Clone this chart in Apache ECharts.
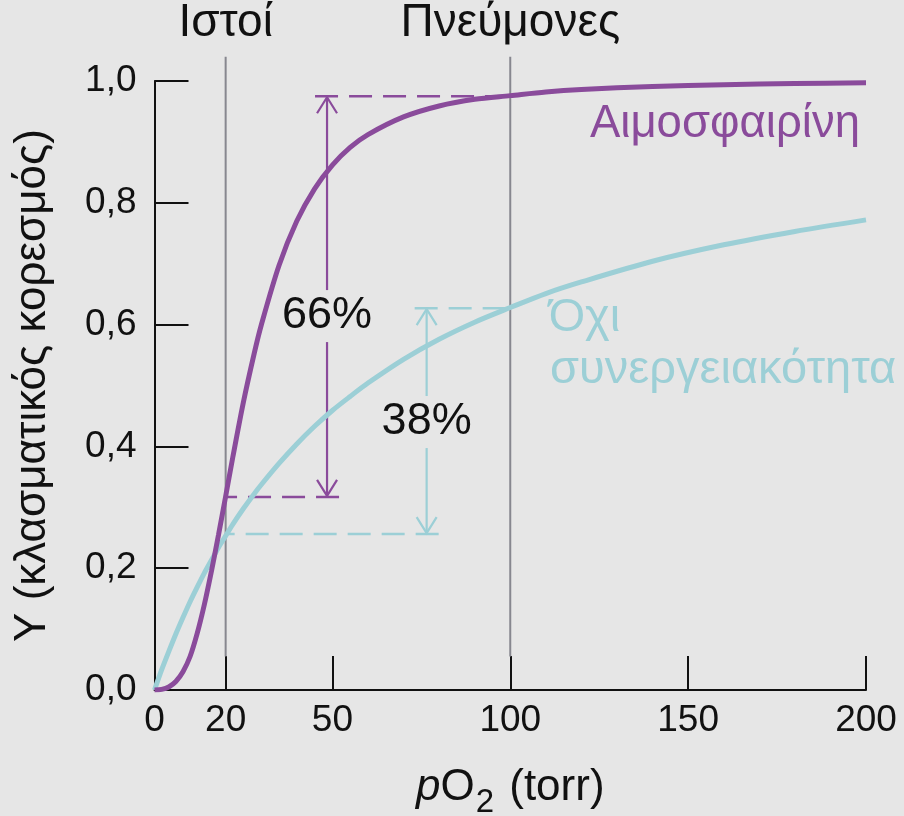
<!DOCTYPE html>
<html><head><meta charset="utf-8">
<script src="https://cdn.jsdelivr.net/npm/echarts@6/dist/echarts.min.js"></script>
<style>html,body{margin:0;padding:0;background:#e6e6e6}#c{width:904px;height:816px}</style>
</head><body><div id="c"></div>
<script>
// ---- data ----
const pO2        = [0, 2, 4, 6, 8, 10, 12, 14, 16, 18, 20, 22, 25, 28, 30, 35, 40, 45, 50, 55, 60, 70, 80, 90, 100, 110, 120, 140, 160, 180, 200];
const hemoglobin = [0, 0.001, 0.005, 0.014, 0.03, 0.055, 0.093, 0.14, 0.195, 0.255, 0.318, 0.382, 0.473, 0.552, 0.599, 0.697, 0.770, 0.823, 0.862, 0.891, 0.912, 0.941, 0.959, 0.970, 0.976, 0.982, 0.986, 0.991, 0.994, 0.996, 0.997];
const noCoop     = [0, 0.033, 0.063, 0.092, 0.119, 0.145, 0.169, 0.192, 0.213, 0.234, 0.253, 0.272, 0.298, 0.322, 0.337, 0.372, 0.404, 0.433, 0.459, 0.482, 0.504, 0.543, 0.576, 0.604, 0.628, 0.651, 0.670, 0.704, 0.731, 0.753, 0.772];
const xTicks = [0, 20, 50, 100, 150, 200];
const yTicks = [0, 0.2, 0.4, 0.6, 0.8, 1.0];
const regionNames = ['Ιστοί', 'Πνεύμονες'];
const regionP     = [20, 100];
// arrows: [pO2 of arrow, low Y, high Y]
const hbArrow = [48.5, 0.317, 0.975];
const ncArrow = [76.5, 0.256, 0.627];
const hbLabel = '66%';
const ncLabel = '38%';
const hbName = 'Αιμοσφαιρίνη';
const ncName = ['Όχι', 'συνεργειακότητα'];

const PURPLE = '#8a4b9b', TEAL = '#9ccfd6', GRAY = '#87878f';
const FONT = "'Liberation Sans', Arial, sans-serif";

function renderAnn(params, api) {
  const c = (x, y) => api.coord([x, y]);
  const ch = [];
  // vertical region lines + titles
  regionP.forEach((p, i) => {
    const a = c(p, 0.055), b = c(p, 1.04);
    ch.push({type: 'line', shape: {x1: a[0], y1: a[1], x2: b[0], y2: b[1]}, style: {stroke: GRAY, lineWidth: 2}});
    ch.push({type: 'text', style: {text: regionNames[i], x: b[0], y: b[1] - 33, fill: '#111', fontSize: 46, fontFamily: FONT, align: 'center', verticalAlign: 'middle'}});
  });
  function dashed(xFrom, xTo, y, color) {
    const a = c(xFrom, y), b = c(xTo, y);
    ch.push({type: 'line', shape: {x1: a[0], y1: a[1], x2: b[0], y2: b[1]}, style: {stroke: color, lineWidth: 2.5, lineDash: [23, 11]}});
  }
  const off = 12 / 3.5575;
  dashed(hbArrow[0] - off, regionP[1], hbArrow[2], PURPLE);
  dashed(hbArrow[0] + off, regionP[0], hbArrow[1], PURPLE);
  dashed(ncArrow[0] - off, regionP[1], ncArrow[2], TEAL);
  dashed(ncArrow[0] + off, regionP[0], ncArrow[1], TEAL);

  function drawArrow(arr, label, color, labelY) {
    const top = c(arr[0], arr[2]), bot = c(arr[0], arr[1]);
    const x = top[0];
    const ly = c(arr[0], labelY)[1];
    const st = {stroke: color, lineWidth: 2.2, fill: null};
    ch.push({type: 'line', shape: {x1: x, y1: top[1] + 1, x2: x, y2: ly - 26}, style: st});
    ch.push({type: 'line', shape: {x1: x, y1: ly + 26, x2: x, y2: bot[1] - 1}, style: st});
    ch.push({type: 'polyline', shape: {points: [[x - 10, top[1] + 17], [x, top[1] + 1], [x + 10, top[1] + 17]]}, style: st});
    ch.push({type: 'polyline', shape: {points: [[x - 10, bot[1] - 17], [x, bot[1] - 1], [x + 10, bot[1] - 17]]}, style: st});
    ch.push({type: 'text', style: {text: label, x: x, y: ly, fill: '#111', fontSize: 45, fontFamily: FONT, align: 'center', verticalAlign: 'middle'}});
  }
  drawArrow(hbArrow, hbLabel, PURPLE, 0.614);
  drawArrow(ncArrow, ncLabel, TEAL, 0.440);

  // curve names
  const hn = c(122.4, 0.928);
  ch.push({type: 'text', style: {text: hbName, x: hn[0], y: hn[1], fill: PURPLE, fontSize: 45.5, fontFamily: FONT, align: 'left', verticalAlign: 'middle'}});
  const n1 = c(110.8, 0.611), n2 = c(111.2, 0.525);
  ch.push({type: 'text', style: {text: ncName[0], x: n1[0], y: n1[1], fill: TEAL, fontSize: 47, fontFamily: FONT, align: 'left', verticalAlign: 'middle'}});
  ch.push({type: 'text', style: {text: ncName[1], x: n2[0], y: n2[1], fill: TEAL, fontSize: 47, fontFamily: FONT, align: 'left', verticalAlign: 'middle'}});
  return {type: 'group', children: ch};
}

const chart = echarts.init(document.getElementById('c'), null, {renderer: 'canvas'});
chart.setOption({
  backgroundColor: '#e6e6e6',
  animation: false,
  textStyle: {fontFamily: FONT},
  grid: {left: 154.5, right: 38, top: 81, bottom: 126, containLabel: false, outerBoundsMode: 'none'},
  xAxis: {
    type: 'value', min: 0, max: 200,
    name: '{i|p}{n|O}{s|2}{n| (torr)}',
    nameLocation: 'middle', nameGap: 76,
    nameTextStyle: {rich: {
      i: {fontSize: 44, fontStyle: 'italic', color: '#111', fontFamily: FONT, lineHeight: 44},
      n: {fontSize: 44, color: '#111', fontFamily: FONT, lineHeight: 44},
      s: {fontSize: 33, color: '#111', fontFamily: FONT, verticalAlign: 'top', lineHeight: 14, padding: [20, 3, 0, 1]}
    }},
    axisLine: {lineStyle: {color: '#111', width: 2}},
    axisTick: {inside: true, length: 34, customValues: xTicks, lineStyle: {color: '#111', width: 2}},
    axisLabel: {customValues: xTicks, color: '#111', fontSize: 37, margin: 12, fontFamily: FONT},
    splitLine: {show: false}
  },
  yAxis: {
    type: 'value', min: 0, max: 1, interval: 0.2,
    name: 'Y (κλασματικός κορεσμός)',
    nameLocation: 'middle', nameGap: 100, nameRotate: 90,
    nameTextStyle: {fontSize: 44, color: '#111', fontFamily: FONT},
    axisLine: {show: true, lineStyle: {color: '#111', width: 2}},
    axisTick: {show: true, inside: true, length: 34, lineStyle: {color: '#111', width: 2}},
    axisLabel: {color: '#111', fontSize: 37, margin: 18, fontFamily: FONT,
      formatter: v => v.toFixed(1).replace('.', ',')},
    splitLine: {show: false}
  },
  series: [
    {type: 'custom', z: 1, clip: false, renderItem: renderAnn, data: [0], silent: true},
    {type: 'line', z: 3, data: pO2.map((p, i) => [p, noCoop[i]]), symbol: 'none', smooth: 0.3,
      lineStyle: {color: TEAL, width: 5}},
    {type: 'line', z: 4, data: pO2.map((p, i) => [p, hemoglobin[i]]), symbol: 'none', smooth: 0.3,
      lineStyle: {color: PURPLE, width: 5}}
  ]
});
</script></body></html>
